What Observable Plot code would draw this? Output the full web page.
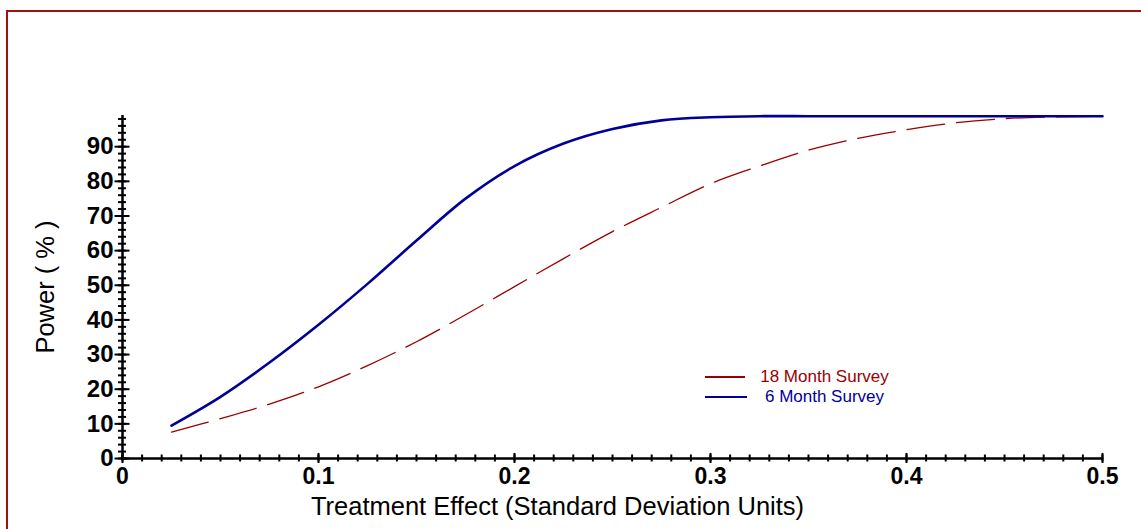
<!DOCTYPE html>
<html>
<head>
<meta charset="utf-8">
<script src="https://cdn.jsdelivr.net/npm/d3@7"></script>
<script src="https://cdn.jsdelivr.net/npm/@observablehq/plot@0.6"></script>
<style>
  html, body { margin: 0; padding: 0; background: #fff; }
  #wrap { position: relative; width: 1141px; height: 529px; overflow: hidden;
          font-family: "Liberation Sans", Arial, sans-serif; }
  #frame { position: absolute; left: 6px; top: 10px; width: 3000px; height: 3000px;
           border-left: 2px solid #a01010; border-top: 2px solid #a01010; pointer-events: none; }
  .legend { position: absolute; left: 705px; top: 367px; display: grid;
            grid-template-columns: 42px 155px; grid-auto-rows: 20px; align-items: center;
            font-size: 17px; }
  .legend .swatch { width: 100%; }
  .legend .name { text-align: center; }
</style>
</head>
<body>
<div id="wrap"></div>
<script>
// Effect sizes (standard deviation units) at which power was evaluated
const effect = [0.025, 0.05, 0.075, 0.1, 0.125, 0.15, 0.175, 0.2, 0.225, 0.25,
                0.275, 0.3, 0.325, 0.35, 0.375, 0.4, 0.425, 0.45, 0.475, 0.5];
// Power (%) for the 6 month survey
const power6 = [9.5, 17.8, 27.7, 38.6, 50.4, 62.9, 75.0, 84.4, 90.9, 95.1,
                97.6, 98.5, 98.8, 98.8, 98.8, 98.8, 98.8, 98.8, 98.8, 98.8];
// Power (%) for the 18 month survey
const power18 = [7.6, 11.5, 15.7, 20.7, 26.8, 33.7, 41.5, 49.6, 57.7, 65.5,
                 72.5, 79.3, 84.4, 89.0, 92.4, 94.9, 96.9, 98.1, 98.6, 98.8];

const seriesNames = ["18 Month Survey", "6 Month Survey"];
const xTitle = "Treatment Effect (Standard Deviation Units)";
const yTitle = "Power ( % )";
const xMajor = [0, 0.1, 0.2, 0.3, 0.4, 0.5];
const xLabels = ["0", "0.1", "0.2", "0.3", "0.4", "0.5"];
const yMajor = [0, 10, 20, 30, 40, 50, 60, 70, 80, 90];

const red = "#990000";
const blue = "#000099";

const xMinor = d3.range(0, 51).map(i => i / 100);
const yMinor = d3.range(0, 99, 2);

const rows6 = effect.map((e, i) => ({effect: e, power: power6[i]}));
const rows18 = effect.map((e, i) => ({effect: e, power: power18[i]}));

const font = '"Liberation Sans", Arial, sans-serif';

const chart = Plot.plot({
  width: 1141,
  height: 529,
  marginLeft: 122,
  marginRight: 39,
  marginTop: 115,
  marginBottom: 71,
  x: {domain: [0, 0.5]},
  y: {domain: [0, 99]},
  style: {fontFamily: font, background: "transparent", color: "black"},
  marks: [
    Plot.line(rows18, {x: "effect", y: "power", stroke: red, strokeWidth: 1.3,
                       strokeDasharray: "38,12", curve: "catmull-rom"}),
    Plot.line(rows6, {x: "effect", y: "power", stroke: blue, strokeWidth: 2.6,
                      curve: "catmull-rom"}),
    // axis lines
    Plot.ruleY([0], {stroke: "black", strokeWidth: 2.5}),
    Plot.ruleX([0], {stroke: "black", strokeWidth: 2.5}),
    // y ticks crossing the axis line
    Plot.axisY({ticks: yMinor, tickSize: 8, dx: 4, fill: "none", stroke: "black", strokeWidth: 2, label: null}),
    Plot.axisY({ticks: yMajor, tickSize: 15, dx: 7.5, fill: "none", stroke: "black", strokeWidth: 2, label: null}),
    Plot.axisY({ticks: yMajor, tickSize: 0, tickPadding: 9, stroke: "none", fill: "black",
                fontSize: 24, fontWeight: "bold", label: null}),
    // x ticks crossing the axis line
    Plot.axisX({ticks: xMinor, tickSize: 7, dy: -3.5, fill: "none", stroke: "black", strokeWidth: 2, label: null}),
    Plot.axisX({ticks: xMajor, tickSize: 10, dy: -5, fill: "none", stroke: "black", strokeWidth: 2, label: null}),
    Plot.axisX({ticks: xMajor, tickSize: 0, tickPadding: 9, stroke: "none", fill: "black",
                fontSize: 23, fontWeight: "bold", label: null,
                tickFormat: d => xLabels[xMajor.indexOf(d)]}),
    // axis titles
    Plot.text([yTitle], {text: d => d, frameAnchor: "left", textAnchor: "middle",
                         rotate: -90, dx: -77, fontSize: 25.5, fill: "black"}),
    Plot.text([xTitle], {text: d => d, frameAnchor: "bottom", textAnchor: "middle",
                         dy: 56, dx: -55, fontSize: 25.5, fill: "black"})
  ]
});

const wrap = document.getElementById("wrap");
wrap.appendChild(chart);

// legend
const legend = document.createElement("div");
legend.className = "legend";
const legendStyles = [
  {color: red, width: "40px", thickness: "1.3px"},
  {color: blue, width: "42px", thickness: "2.6px"}
];
seriesNames.forEach((name, i) => {
  const sw = document.createElement("div");
  sw.className = "swatch";
  sw.style.width = legendStyles[i].width;
  sw.style.height = legendStyles[i].thickness;
  sw.style.background = legendStyles[i].color;
  const lab = document.createElement("div");
  lab.className = "name";
  lab.style.color = legendStyles[i].color;
  lab.textContent = name;
  legend.appendChild(sw);
  legend.appendChild(lab);
});
wrap.appendChild(legend);

const frame = document.createElement("div");
frame.id = "frame";
wrap.appendChild(frame);
</script>
</body>
</html>
